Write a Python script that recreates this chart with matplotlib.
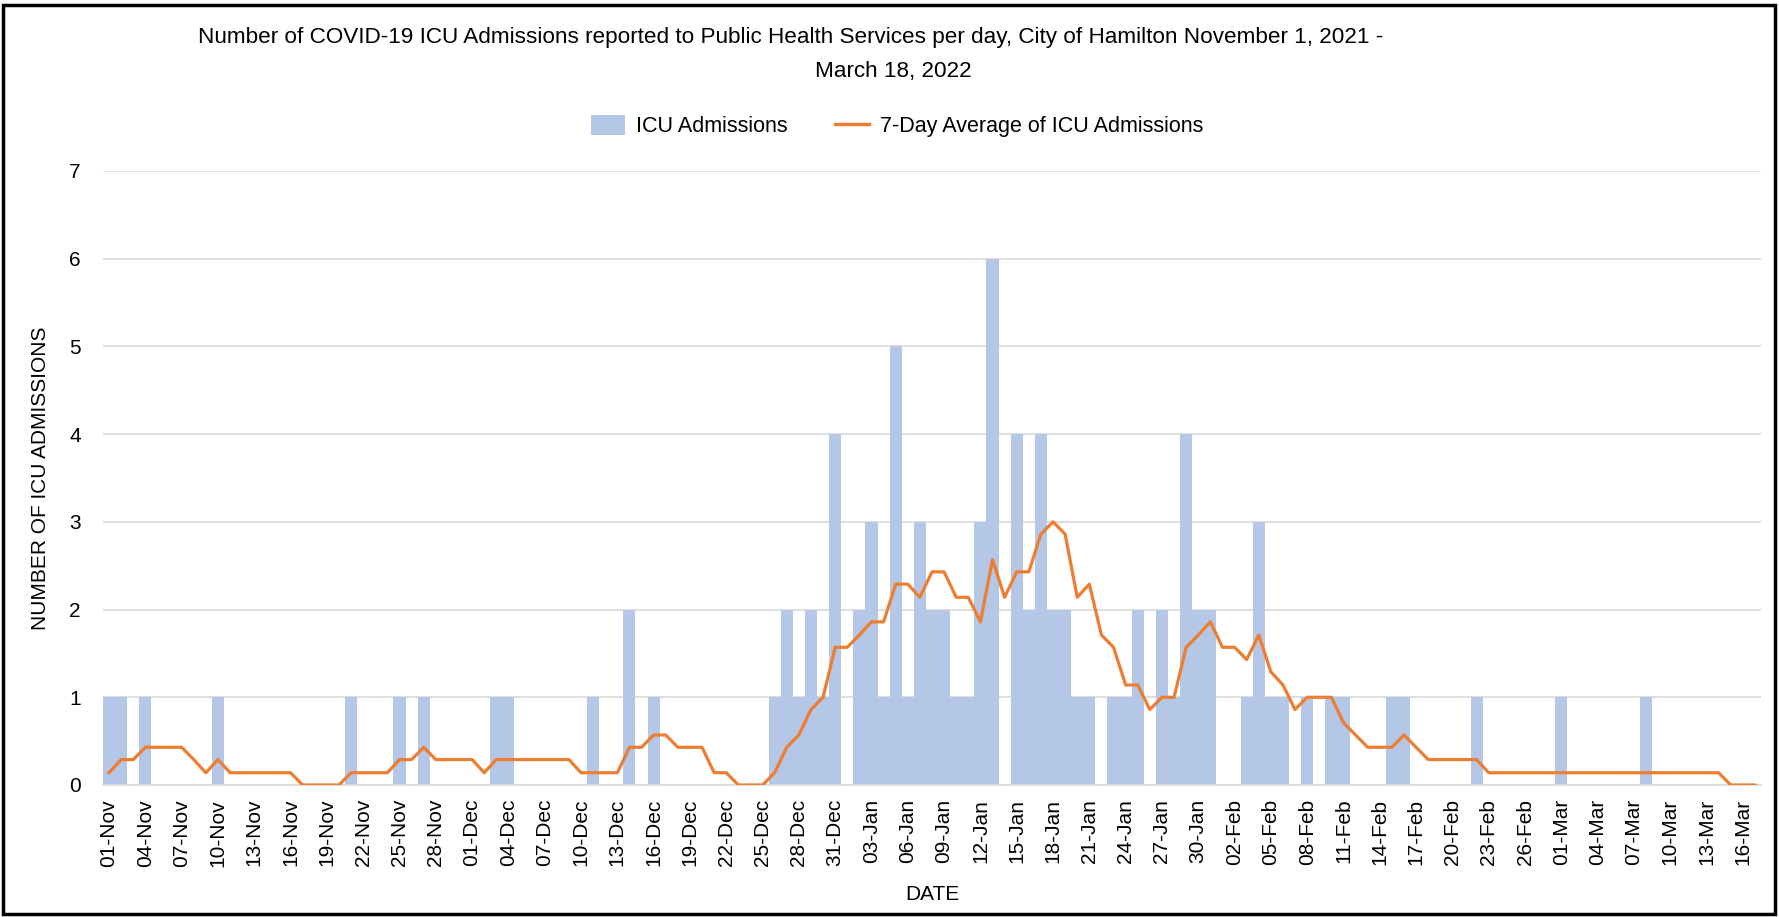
import matplotlib
matplotlib.use("Agg")
import matplotlib.pyplot as plt
from matplotlib.patches import Rectangle
from matplotlib.lines import Line2D
from matplotlib.patches import Patch
import numpy as np
import pandas as pd

# ---- data ----
dates = pd.date_range("2021-11-01", "2022-03-17", freq="D")
icu_admissions = [
    1, 1, 0, 1, 0, 0, 0, 0, 0, 1,
    0, 0, 0, 0, 0, 0, 0, 0, 0, 0,
    1, 0, 0, 0, 1, 0, 1, 0, 0, 0,
    0, 0, 1, 1, 0, 0, 0, 0, 0, 0,
    1, 0, 0, 2, 0, 1, 0, 0, 0, 0,
    0, 0, 0, 0, 0, 1, 2, 1, 2, 1,
    4, 0, 2, 3, 1, 5, 1, 3, 2, 2,
    1, 1, 3, 6, 0, 4, 2, 4, 2, 2,
    1, 1, 0, 1, 1, 2, 0, 2, 1, 4,
    2, 2, 0, 0, 1, 3, 1, 1, 0, 1,
    0, 1, 1, 0, 0, 0, 1, 1, 0, 0,
    0, 0, 0, 1, 0, 0, 0, 0, 0, 0,
    1, 0, 0, 0, 0, 0, 0, 1, 0, 0,
    0, 0, 0, 0, 0, 0, 0,
]
avg_7day = [
    0.14, 0.29, 0.29, 0.43, 0.43, 0.43, 0.43, 0.29, 0.14, 0.29,
    0.14, 0.14, 0.14, 0.14, 0.14, 0.14, 0.00, 0.00, 0.00, 0.00,
    0.14, 0.14, 0.14, 0.14, 0.29, 0.29, 0.43, 0.29, 0.29, 0.29,
    0.29, 0.14, 0.29, 0.29, 0.29, 0.29, 0.29, 0.29, 0.29, 0.14,
    0.14, 0.14, 0.14, 0.43, 0.43, 0.57, 0.57, 0.43, 0.43, 0.43,
    0.14, 0.14, 0.00, 0.00, 0.00, 0.14, 0.43, 0.57, 0.86, 1.00,
    1.57, 1.57, 1.71, 1.86, 1.86, 2.29, 2.29, 2.14, 2.43, 2.43,
    2.14, 2.14, 1.86, 2.57, 2.14, 2.43, 2.43, 2.86, 3.00, 2.86,
    2.14, 2.29, 1.71, 1.57, 1.14, 1.14, 0.86, 1.00, 1.00, 1.57,
    1.71, 1.86, 1.57, 1.57, 1.43, 1.71, 1.29, 1.14, 0.86, 1.00,
    1.00, 1.00, 0.71, 0.57, 0.43, 0.43, 0.43, 0.57, 0.43, 0.29,
    0.29, 0.29, 0.29, 0.29, 0.14, 0.14, 0.14, 0.14, 0.14, 0.14,
    0.14, 0.14, 0.14, 0.14, 0.14, 0.14, 0.14, 0.14, 0.14, 0.14,
    0.14, 0.14, 0.14, 0.14, 0.00, 0.00, 0.00,
]
tick_labels = [d.strftime("%d-%b") for d in dates]

title_line1 = "Number of COVID-19 ICU Admissions reported to Public Health Services per day, City of Hamilton November 1, 2021 -"
title_line2 = "March 18, 2022"

# ---- styling ----
NARROW = ["Liberation Sans Narrow", "Liberation Sans", "DejaVu Sans"]
REG = ["Liberation Sans", "DejaVu Sans"]
BAR_C = "#B4C7E7"
LINE_C = "#ED7D31"
GRID_C = "#D9D9D9"

fig = plt.figure(figsize=(17.79, 9.17), dpi=100)
ax = fig.add_axes([103 / 1779, 1 - 785 / 917, (1761 - 103) / 1779, (785 - 171) / 917])

x = np.arange(len(dates))
ax.bar(x, icu_admissions, width=1.0, color=BAR_C, linewidth=0, zorder=2)
ax.plot(x, avg_7day, color=LINE_C, linewidth=2.3, zorder=3, solid_joinstyle="round")

ax.set_xlim(-0.5, len(dates) - 0.5)
ax.set_ylim(0, 7)
ax.set_yticks(range(0, 8))
ax.yaxis.grid(True, color=GRID_C, linewidth=1.2, zorder=0)
ax.set_axisbelow(True)
for s in ["top", "right", "left"]:
    ax.spines[s].set_visible(False)
ax.spines["bottom"].set_color(GRID_C)
ax.spines["bottom"].set_linewidth(1.2)
ax.tick_params(axis="both", length=0)
ax.tick_params(axis="y", pad=16)
ax.tick_params(axis="x", pad=10)

ax.set_xticks(x[::3])
ax.set_xticklabels(tick_labels[::3], rotation=90, fontsize=15, family=REG, color="#000000")
for lbl in ax.get_yticklabels():
    lbl.set_fontsize(15)
    lbl.set_family(REG)

ax.set_ylabel("NUMBER OF ICU ADMISSIONS", fontsize=15, family=REG, labelpad=14)
ax.set_xlabel("DATE", fontsize=15, family=REG, labelpad=13)

fig.text(791 / 1779, 1 - 38 / 917, title_line1, ha="center", va="center", fontsize=16.2, family=NARROW)
fig.text(893 / 1779, 1 - 71 / 917, title_line2, ha="center", va="center", fontsize=16.2, family=NARROW)

handles = [Patch(facecolor=BAR_C, edgecolor="none"),
           Line2D([0], [0], color=LINE_C, linewidth=2.5)]
fig.legend(handles, ["ICU Admissions", "7-Day Average of ICU Admissions"],
           loc="center", bbox_to_anchor=(897 / 1779, 1 - 126 / 917), ncol=2,
           frameon=False, prop={"family": NARROW, "size": 15.5},
           handlelength=1.6, handleheight=1.1, columnspacing=2.2, handletextpad=0.5)

fig.patches.append(Rectangle((3 / 1779, 3 / 917), 1 - 7 / 1779, 1 - 8 / 917,
                             transform=fig.transFigure, fill=False,
                             edgecolor="black", linewidth=2.5))

fig.savefig("out.png", dpi=100)
